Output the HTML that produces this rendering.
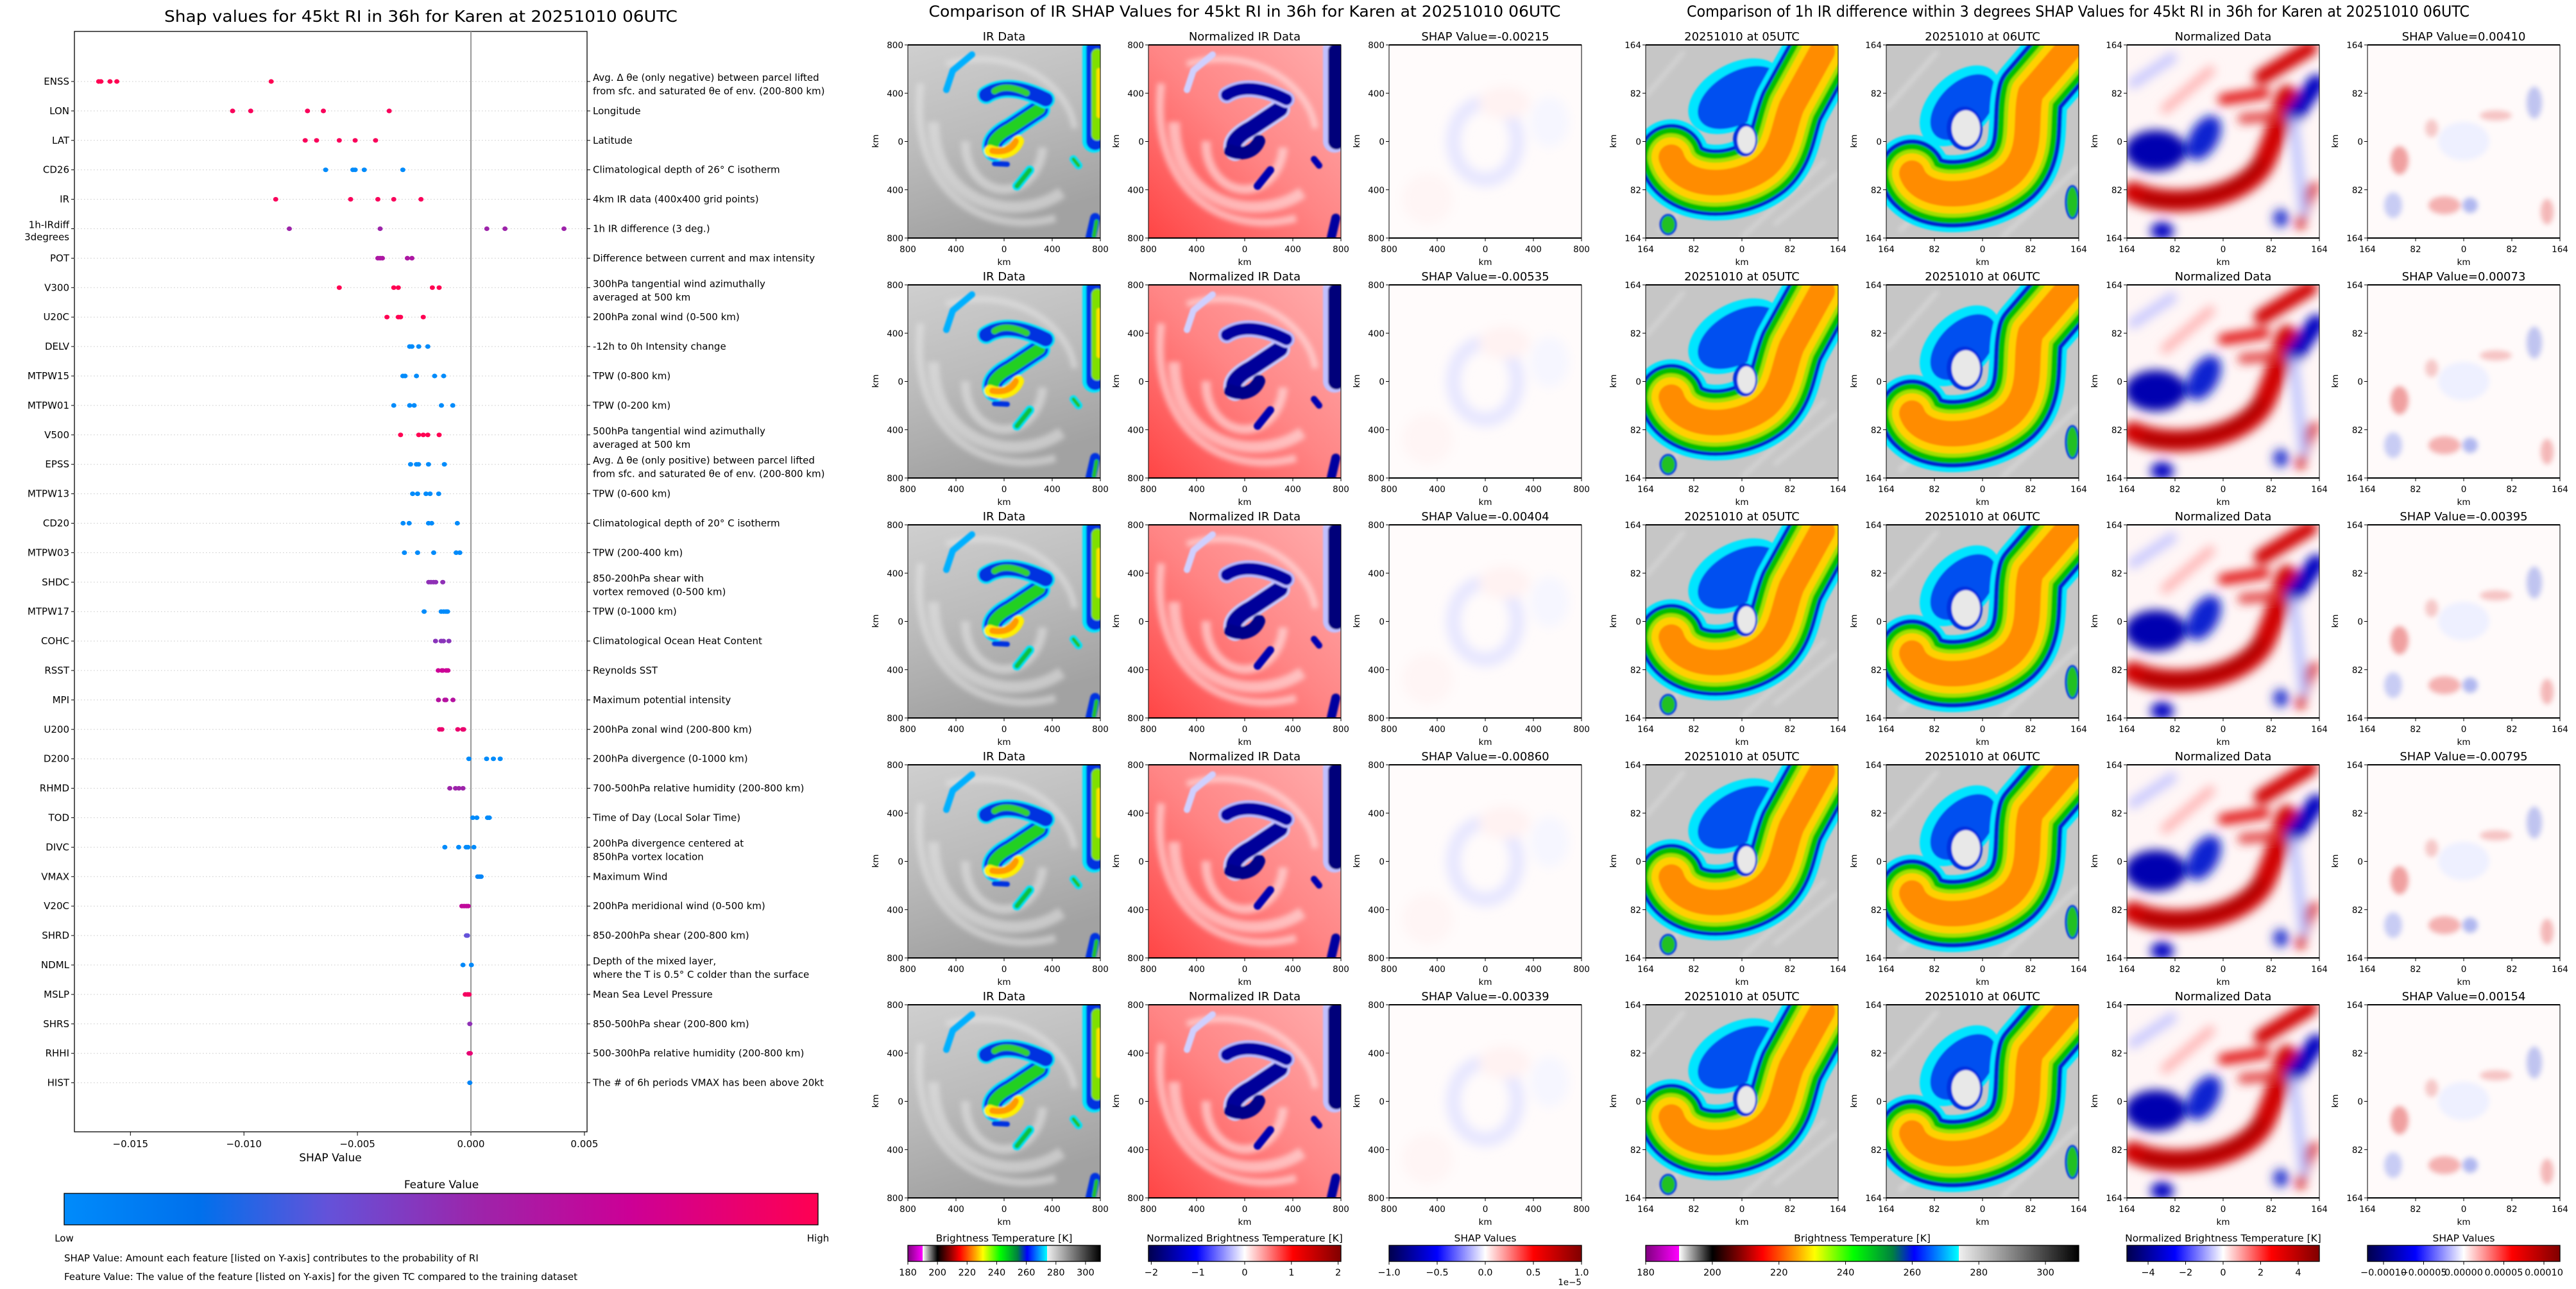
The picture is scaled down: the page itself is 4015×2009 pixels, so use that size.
<!DOCTYPE html>
<html><head><meta charset="utf-8"><title>SHAP Karen</title>
<style>
html,body{margin:0;padding:0;background:#fff;}
svg{display:block;font-family:"DejaVu Sans","Liberation Sans",sans-serif;}
</style></head>
<body>
<svg id="root" xmlns="http://www.w3.org/2000/svg" width="4015" height="2009" viewBox="0 0 4015 2009">
<defs>
  <linearGradient id="featGrad" x1="0" x2="1" y1="0" y2="0">
    <stop offset="0" stop-color="#008bfb"/><stop offset="0.18" stop-color="#0070ec"/>
    <stop offset="0.35" stop-color="#6452d9"/><stop offset="0.55" stop-color="#9d24aa"/>
    <stop offset="0.75" stop-color="#cc0096"/><stop offset="1" stop-color="#ff0052"/>
  </linearGradient>
  <linearGradient id="btGradMid" x1="0" x2="1">
    <stop offset="0" stop-color="#800080"/><stop offset="0.077" stop-color="#ff00ff"/>
    <stop offset="0.077" stop-color="#ffffff"/><stop offset="0.154" stop-color="#000000"/>
    <stop offset="0.22" stop-color="#8b0000"/><stop offset="0.27" stop-color="#ff0000"/>
    <stop offset="0.35" stop-color="#ffa500"/><stop offset="0.39" stop-color="#ffff00"/>
    <stop offset="0.48" stop-color="#00ff00"/><stop offset="0.57" stop-color="#008040"/>
    <stop offset="0.62" stop-color="#0000ff"/><stop offset="0.723" stop-color="#00ffff"/>
    <stop offset="0.723" stop-color="#f0f0f0"/><stop offset="1" stop-color="#000000"/>
  </linearGradient>
  <linearGradient id="seismic" x1="0" x2="1">
    <stop offset="0" stop-color="#00004d"/><stop offset="0.25" stop-color="#0000ff"/>
    <stop offset="0.5" stop-color="#ffffff"/><stop offset="0.75" stop-color="#ff0000"/>
    <stop offset="1" stop-color="#800000"/>
  </linearGradient>
  <linearGradient id="irBg" x1="0" y1="0" x2="0.3" y2="1">
    <stop offset="0" stop-color="#cfcfcf"/><stop offset="0.5" stop-color="#bcbcbc"/><stop offset="1" stop-color="#a2a2a2"/>
  </linearGradient>
  <linearGradient id="nrBg" x1="1" y1="0" x2="0" y2="1">
    <stop offset="0" stop-color="#ffadad"/><stop offset="0.5" stop-color="#ff8585"/><stop offset="1" stop-color="#ff4545"/>
  </linearGradient>
  <filter id="b1"><feGaussianBlur stdDeviation="1.2"/></filter>
  <filter id="b4"><feGaussianBlur stdDeviation="4"/></filter>
  <filter id="b8"><feGaussianBlur stdDeviation="8"/></filter>

  <symbol id="irSym" viewBox="0 0 300 301">
    <rect width="300" height="301" fill="url(#irBg)"/>
    <g fill="none" stroke="#e6e6e6" opacity="0.55" filter="url(#b4)">
      <path d="M150,150 m-60,0 a60,70 0 1,0 120,10" stroke-width="14"/>
      <path d="M40,120 C40,250 170,280 240,230" stroke-width="18"/>
      <path d="M20,60 C0,230 120,300 230,270" stroke-width="12"/>
      <path d="M60,30 C160,0 250,60 260,130" stroke-width="10"/>
    </g>
    <g filter="url(#b1)" fill="none" stroke-linecap="round" stroke-linejoin="round">
      <path d="M135,165 C125,150 150,135 160,130 C175,120 190,110 205,100" stroke="#00e5ff" stroke-width="34"/>
      <path d="M135,165 C125,150 150,135 160,130 C175,120 190,110 205,100" stroke="#0033ee" stroke-width="28"/>
      <path d="M135,165 C125,150 150,135 160,130 C175,120 190,110 205,100" stroke="#20d020" stroke-width="18"/>
      <path d="M128,165 C145,172 165,168 172,150" stroke="#ffee00" stroke-width="18"/>
      <path d="M132,165 C148,168 163,163 168,150" stroke="#ff9a00" stroke-width="10"/>
      <path d="M122,78 C150,60 185,70 215,85" stroke="#00e5ff" stroke-width="28"/>
      <path d="M122,78 C150,60 185,70 215,85" stroke="#0030e0" stroke-width="22"/>
      <path d="M135,72 C150,62 170,68 185,75" stroke="#30d030" stroke-width="10"/>
      <path d="M290,5 L290,150" stroke="#00e5ff" stroke-width="36"/>
      <path d="M292,5 L292,150" stroke="#0030e0" stroke-width="28"/>
      <path d="M295,15 L295,140" stroke="#80e000" stroke-width="18"/>
      <path d="M298,40 L298,110" stroke="#ffe000" stroke-width="8"/>
      <path d="M170,220 L190,195" stroke="#00e5ff" stroke-width="14"/>
      <path d="M170,220 L190,195" stroke="#10c040" stroke-width="8"/>
      <path d="M258,178 L266,188" stroke="#00e5ff" stroke-width="12"/>
      <path d="M258,178 L266,188" stroke="#20c020" stroke-width="6"/>
      <path d="M135,185 L155,186" stroke="#0030e0" stroke-width="8"/>
      <path d="M100,15 L70,40 L60,70" stroke="#00b0ff" stroke-width="10"/>
      <path d="M292,270 L285,300" stroke="#0030e0" stroke-width="16"/>
      <path d="M294,275 L290,298" stroke="#20c020" stroke-width="6"/>
    </g>
  </symbol>

  <symbol id="nrSym" viewBox="0 0 300 301">
    <rect width="300" height="301" fill="url(#nrBg)"/>
    <g fill="none" stroke="#ffe8e8" opacity="0.6" filter="url(#b4)">
      <path d="M150,150 m-60,0 a60,70 0 1,0 120,10" stroke-width="14"/>
      <path d="M40,120 C40,250 170,280 240,230" stroke-width="18"/>
      <path d="M20,60 C0,230 120,300 230,270" stroke-width="12"/>
      <path d="M60,30 C160,0 250,60 260,130" stroke-width="10"/>
    </g>
    <g filter="url(#b1)" fill="none" stroke-linecap="round" stroke-linejoin="round">
      <path d="M135,165 C125,150 150,135 160,130 C175,120 190,110 205,100" stroke="#c8c8ff" stroke-width="32"/>
      <path d="M135,165 C125,150 150,135 160,130 C175,120 190,110 205,100" stroke="#00009a" stroke-width="24"/>
      <path d="M128,165 C145,172 165,168 172,150" stroke="#00008a" stroke-width="20"/>
      <path d="M122,78 C150,60 185,70 215,85" stroke="#b8b8ff" stroke-width="26"/>
      <path d="M122,78 C150,60 185,70 215,85" stroke="#0000a0" stroke-width="18"/>
      <path d="M290,5 L290,150" stroke="#c0c0ff" stroke-width="36"/>
      <path d="M293,10 L293,150" stroke="#00007a" stroke-width="26"/>
      <path d="M170,220 L190,195" stroke="#0000b0" stroke-width="12"/>
      <path d="M258,178 L266,188" stroke="#0000b0" stroke-width="10"/>
      <path d="M100,15 L70,40 L60,70" stroke="#d0d0ff" stroke-width="10"/>
      <path d="M292,270 L285,300" stroke="#0000a0" stroke-width="14"/>
    </g>
  </symbol>

  <symbol id="shapMidSym" viewBox="0 0 300 301">
    <rect width="300" height="301" fill="#fffbfb"/>
    <g filter="url(#b8)">
      <ellipse cx="150" cy="150" rx="50" ry="60" fill="none" stroke="#e6e6ff" stroke-width="22"/>
      <ellipse cx="180" cy="90" rx="40" ry="25" fill="#fff2f2"/>
      <ellipse cx="250" cy="120" rx="30" ry="40" fill="#f6f6ff"/>
      <ellipse cx="60" cy="240" rx="40" ry="40" fill="#fff5f5"/>
    </g>
  </symbol>

  <symbol id="r05Sym" viewBox="0 0 300 301">
    <rect width="300" height="301" fill="#c6c6c6"/>
    <g stroke="#e0e0e0" stroke-width="6" opacity="0.6" filter="url(#b4)">
      <path d="M0,80 L60,10"/><path d="M20,290 L120,200"/><path d="M150,300 L280,180"/><path d="M200,280 L300,200"/><path d="M230,120 L300,60"/>
    </g>
    <g filter="url(#b1)" fill="none" stroke-linecap="round" stroke-linejoin="round">
      <ellipse cx="140" cy="80" rx="80" ry="50" fill="#00e5ff" stroke="none" transform="rotate(-30 140 80)"/>
      <ellipse cx="145" cy="82" rx="70" ry="40" fill="#0050f0" stroke="none" transform="rotate(-30 145 82)"/>
      <path id="c05" d="M40,175 C55,225 140,225 185,190 C215,165 215,125 228,95 L275,10"/>
      <use href="#c05" stroke="#00e5ff" stroke-width="118"/>
      <use href="#c05" stroke="#0020d0" stroke-width="104"/>
      <use href="#c05" stroke="#00c000" stroke-width="92"/>
      <use href="#c05" stroke="#a0e000" stroke-width="74"/>
      <use href="#c05" stroke="#ffd000" stroke-width="62"/>
      <use href="#c05" stroke="#ff8c00" stroke-width="40"/>
      <ellipse cx="155" cy="148" rx="19" ry="26" fill="#0030e0" stroke="none"/>
      <ellipse cx="157" cy="148" rx="14" ry="21" fill="#e8e8e8" stroke="none"/>
      <ellipse cx="35" cy="280" rx="12" ry="15" fill="#20c020" stroke="#0030e0" stroke-width="3"/>
    </g>
  </symbol>

  <symbol id="r06Sym" viewBox="0 0 300 301">
    <rect width="300" height="301" fill="#c6c6c6"/>
    <g stroke="#e4e4e4" stroke-width="6" opacity="0.6" filter="url(#b4)">
      <path d="M0,100 L80,10"/><path d="M20,290 L120,200"/><path d="M180,300 L300,190"/>
    </g>
    <g filter="url(#b1)" fill="none" stroke-linecap="round" stroke-linejoin="round">
      <ellipse cx="115" cy="95" rx="75" ry="48" fill="#00e5ff" stroke="none" transform="rotate(-45 115 95)"/>
      <ellipse cx="120" cy="97" rx="62" ry="38" fill="#0050f0" stroke="none" transform="rotate(-45 120 97)"/>
      <path id="c06" d="M40,200 C55,245 150,240 195,200 C230,165 215,115 225,75 L285,5"/>
      <use href="#c06" stroke="#00e5ff" stroke-width="120"/>
      <use href="#c06" stroke="#0020d0" stroke-width="106"/>
      <use href="#c06" stroke="#00c000" stroke-width="92"/>
      <use href="#c06" stroke="#a0e000" stroke-width="74"/>
      <use href="#c06" stroke="#ffd000" stroke-width="62"/>
      <use href="#c06" stroke="#ff8c00" stroke-width="40"/>
      <ellipse cx="122" cy="130" rx="28" ry="34" fill="#0030e0" stroke="none"/>
      <ellipse cx="124" cy="130" rx="22" ry="28" fill="#e8e8e8" stroke="none"/>
      <ellipse cx="290" cy="245" rx="10" ry="25" fill="#20c020" stroke="#0030e0" stroke-width="3"/>
    </g>
  </symbol>

  <symbol id="rNormSym" viewBox="0 0 300 301">
    <rect width="300" height="301" fill="#fff6f6"/>
    <g filter="url(#b8)" fill="none" stroke-linecap="round">
      <path d="M10,230 C80,260 190,235 215,180 C235,135 240,110 250,80" stroke="#d00000" stroke-width="34"/>
      <path d="M30,240 C100,250 180,230 205,185" stroke="#b00000" stroke-width="18"/>
      <ellipse cx="45" cy="165" rx="48" ry="32" fill="#0000b0" stroke="none"/>
      <ellipse cx="120" cy="145" rx="22" ry="38" fill="#1020d0" stroke="none" transform="rotate(30 120 145)"/>
      <path d="M260,110 L295,60" stroke="#0000c0" stroke-width="28"/>
      <path d="M210,50 L285,5" stroke="#d00000" stroke-width="24"/>
      <path d="M150,85 L215,75" stroke="#e00000" stroke-width="16"/>
      <path d="M180,115 L240,110" stroke="#e03030" stroke-width="14"/>
      <path d="M10,60 L70,20" stroke="#c8c8ff" stroke-width="16"/>
      <path d="M60,100 L130,40" stroke="#ffb0b0" stroke-width="14"/>
      <path d="M290,220 L270,280" stroke="#d00000" stroke-width="14"/>
      <ellipse cx="55" cy="290" rx="18" ry="14" fill="#0000c0" stroke="none"/>
      <ellipse cx="240" cy="270" rx="12" ry="14" fill="#2030d0" stroke="none"/>
      <path d="M260,120 L275,260" stroke="#b8c0ff" stroke-width="14"/>
    </g>
  </symbol>

  <symbol id="rShapSym" viewBox="0 0 300 301">
    <rect width="300" height="301" fill="#fffafa"/>
    <g filter="url(#b4)">
      <ellipse cx="50" cy="180" rx="14" ry="22" fill="#f0a0a0"/>
      <ellipse cx="120" cy="250" rx="25" ry="14" fill="#f4b0b0"/>
      <ellipse cx="160" cy="250" rx="12" ry="12" fill="#b0b8f0"/>
      <ellipse cx="260" cy="90" rx="12" ry="25" fill="#c0c4f0"/>
      <ellipse cx="200" cy="110" rx="25" ry="8" fill="#f6c4c4"/>
      <ellipse cx="40" cy="250" rx="14" ry="20" fill="#c8ccf4"/>
      <ellipse cx="150" cy="150" rx="40" ry="30" fill="#eef0ff"/>
      <ellipse cx="280" cy="260" rx="10" ry="20" fill="#f4b8b8"/>
      <ellipse cx="100" cy="130" rx="10" ry="14" fill="#f6c8c8"/>
    </g>
  </symbol>
</defs>
<g id="main"></g>
<g id="panels"></g>
</svg>
<script>
// ---------- summary plot data ----------
const features = ["ENSS","LON","LAT","CD26","IR","1h-IRdiff\n3degrees","POT","V300","U20C","DELV","MTPW15","MTPW01","V500","EPSS","MTPW13","CD20","MTPW03","SHDC","MTPW17","COHC","RSST","MPI","U200","D200","RHMD","TOD","DIVC","VMAX","V20C","SHRD","NDML","MSLP","SHRS","RHHI","HIST"];
const descriptions = [
 "Avg. Δ θe (only negative) between parcel lifted\nfrom sfc. and saturated θe of env. (200-800 km)",
 "Longitude","Latitude","Climatological depth of 26° C isotherm","4km IR data (400x400 grid points)",
 "1h IR difference (3 deg.)","Difference between current and max intensity",
 "300hPa tangential wind azimuthally\naveraged at 500 km","200hPa zonal wind (0-500 km)","-12h to 0h Intensity change",
 "TPW (0-800 km)","TPW (0-200 km)","500hPa tangential wind azimuthally\naveraged at 500 km",
 "Avg. Δ θe (only positive) between parcel lifted\nfrom sfc. and saturated θe of env. (200-800 km)",
 "TPW (0-600 km)","Climatological depth of 20° C isotherm","TPW (200-400 km)",
 "850-200hPa shear with\nvortex removed (0-500 km)","TPW (0-1000 km)","Climatological Ocean Heat Content",
 "Reynolds SST","Maximum potential intensity","200hPa zonal wind (200-800 km)","200hPa divergence (0-1000 km)",
 "700-500hPa relative humidity (200-800 km)","Time of Day (Local Solar Time)",
 "200hPa divergence centered at\n850hPa vortex location","Maximum Wind","200hPa meridional wind (0-500 km)",
 "850-200hPa shear (200-800 km)","Depth of the mixed layer,\nwhere the T is 0.5° C colder than the surface",
 "Mean Sea Level Pressure","850-500hPa shear (200-800 km)","500-300hPa relative humidity (200-800 km)",
 "The # of 6h periods VMAX has been above 20kt"];
const shapValues = [
 [-0.0164,-0.0163,-0.0159,-0.0156,-0.0088],
 [-0.0105,-0.0097,-0.0072,-0.0065,-0.0036],
 [-0.0073,-0.0068,-0.0058,-0.0051,-0.0042],
 [-0.0064,-0.0052,-0.0051,-0.0047,-0.0030],
 [-0.0086,-0.0053,-0.0041,-0.0034,-0.0022],
 [-0.0080,-0.0040,0.0007,0.0015,0.0041],
 [-0.0041,-0.0040,-0.0039,-0.0028,-0.0026],
 [-0.0058,-0.0034,-0.0032,-0.0017,-0.0014],
 [-0.0037,-0.0032,-0.0031,-0.0021],
 [-0.0027,-0.0026,-0.0023,-0.0019],
 [-0.0030,-0.0029,-0.0024,-0.0016,-0.0012],
 [-0.0034,-0.0027,-0.0025,-0.0013,-0.0008],
 [-0.0031,-0.0023,-0.0021,-0.0019,-0.0014],
 [-0.00266,-0.00240,-0.00231,-0.00187,-0.00117],
 [-0.00257,-0.00235,-0.00198,-0.00180,-0.00142],
 [-0.00299,-0.00272,-0.00187,-0.00173,-0.00060],
 [-0.00293,-0.00235,-0.00164,-0.00065,-0.00049],
 [-0.00186,-0.00176,-0.00165,-0.00155,-0.00124],
 [-0.00206,-0.00131,-0.00120,-0.00110,-0.00103],
 [-0.00156,-0.00131,-0.00121,-0.00097],
 [-0.00144,-0.00128,-0.00124,-0.00109,-0.00101],
 [-0.00143,-0.00115,-0.00110,-0.00079],
 [-0.00138,-0.00128,-0.00058,-0.00036,-0.00032],
 [-0.00009,0.00069,0.00099,0.00129],
 [-0.00093,-0.00068,-0.00053,-0.00035],
 [0.00008,0.00026,0.00073,0.00081],
 [-0.00115,-0.00054,-0.00021,-0.00013,0.00013],
 [0.00030,0.00038,0.00045],
 [-0.00040,-0.00030,-0.00020,-0.00012],
 [-0.00020,-0.00015],
 [-0.00035,0.00002],
 [-0.00025,-0.00015,-0.00008],
 [-0.00005],
 [-0.00008,-0.00003],
 [-0.00005]];
const featureLevels = [1,0.97,0.97,0,0.97,0.55,0.62,1,1,0,0,0,1,0,0,0,0,0.5,0,0.48,0.75,0.65,0.9,0,0.55,0,0,0.05,0.7,0.35,0.02,0.95,0.5,0.88,0.05];
const xTicks = [-0.015,-0.010,-0.005,0.000,0.005];
const xTickLabels = ["\u22120.015","\u22120.010","\u22120.005","0.000","0.005"];

// ---------- image panel data ----------
const midTitles = ["IR Data","Normalized IR Data","SHAP Value"];
const midShap = ["-0.00215","-0.00535","-0.00404","-0.00860","-0.00339"];
const rightTitles = ["20251010 at 05UTC","20251010 at 06UTC","Normalized Data","SHAP Value"];
const rightShap = ["0.00410","0.00073","-0.00395","-0.00795","0.00154"];
const midTickLabels = ["800","400","0","400","800"];
const rightTickLabels = ["164","82","0","82","164"];
const btTicks = [180,200,220,240,260,280,300];
const normMidTicks = [-2,-1,0,1,2];
const shapMidTicks = [-1.0,-0.5,0.0,0.5,1.0];
const normRightTicks = [-4,-2,0,2,4];
const shapRightTicks = [-0.00010,-0.00005,0.00000,0.00005,0.00010];

const NS = "http://www.w3.org/2000/svg";
function mk(parent, tag, attrs, txt){
  const e = document.createElementNS(NS, tag);
  for (const k in attrs) e.setAttribute(k, attrs[k]);
  if (txt !== undefined) e.textContent = txt;
  parent.appendChild(e);
  return e;
}
function lerp(a,b,t){return a+(b-a)*t;}
const cStops=[[0,[0,139,251]],[0.18,[0,112,236]],[0.35,[100,82,217]],[0.55,[157,36,170]],[0.75,[204,0,150]],[1,[255,0,82]]];
function featColor(f){
  for(let i=1;i<cStops.length;i++){ if(f<=cStops[i][0]){const a=cStops[i-1],b=cStops[i];const t=(f-a[0])/(b[0]-a[0]);
    return "rgb("+a[1].map((v,j)=>Math.round(lerp(v,b[1][j],t))).join(",")+")";}}
  return "rgb(255,0,82)";
}

// ---------- summary chart ----------
const main = document.getElementById("main");
const AX_L=116, AX_R=915, AX_T=49, AX_B=1764;
const xScale = v => 734 + v*35380;
const rowY = i => 127 + i*45.9;

const frame = mk(main,"rect",{x:AX_L,y:AX_T,width:AX_R-AX_L,height:AX_B-AX_T,fill:"none",stroke:"#000","stroke-width":1.3});


const title = mk(main,"text",{x:656,y:34,"text-anchor":"middle","font-size":25,textLength:800,lengthAdjust:"spacingAndGlyphs"},"Shap values for 45kt RI in 36h for Karen at 20251010 06UTC");



features.forEach((f,i)=>{
  const y=rowY(i);
  const grid = mk(main,"line",{x1:AX_L,x2:AX_R,y1:y,y2:y,stroke:"#c8c8c8","stroke-width":1,"stroke-dasharray":"1.5,3.5"});
  
  
  const tl = mk(main,"line",{x1:AX_L-5,x2:AX_L,y1:y,y2:y,stroke:"#000","stroke-width":1});
  
  
  const tr = mk(main,"line",{x1:AX_R,x2:AX_R+5,y1:y,y2:y,stroke:"#000","stroke-width":1});
  
  
  const fl = f.split("\n");
  fl.forEach((ln,k)=>{
    const yy = fl.length===1 ? y+5 : y-1+k*19;
    const t = mk(main,"text",{x:AX_L-8,y:yy,"text-anchor":"end","font-size":15},ln);
    
    
  });
  const dl = descriptions[i].split("\n");
  dl.forEach((ln,k)=>{
    const yy = dl.length===1 ? y+5 : y-1+k*21;
    const t = mk(main,"text",{x:AX_R+9,y:yy,"font-size":15},ln);
    
    
  });
});
const zl = mk(main,"line",{x1:xScale(0),x2:xScale(0),y1:AX_T,y2:AX_B,stroke:"#999","stroke-width":2});


shapValues.forEach((vals,i)=>{
  vals.forEach(v=>{
    const c = mk(main,"ellipse",{cx:xScale(v),cy:rowY(i),rx:4,ry:3.6,fill:featColor(featureLevels[i])});
    
    
  });
});
xTicks.forEach((t,k)=>{
  const x=xScale(t);
  const tk = mk(main,"line",{x1:x,x2:x,y1:AX_B,y2:AX_B+6,stroke:"#000","stroke-width":1});
  
  
  const tx = mk(main,"text",{x:x,y:AX_B+24,"text-anchor":"middle","font-size":15},xTickLabels[k]);
  
  
});
const xt = mk(main,"text",{x:515,y:1810,"text-anchor":"middle","font-size":17},"SHAP Value");


const cbT = mk(main,"text",{x:688,y:1852,"text-anchor":"middle","font-size":17},"Feature Value");


const cb = mk(main,"rect",{x:100,y:1860,width:1175,height:49,fill:"url(#featGrad)",stroke:"#000","stroke-width":1.3});


const lo = mk(main,"text",{x:100,y:1935,"text-anchor":"middle","font-size":15},"Low");


const hi = mk(main,"text",{x:1275,y:1935,"text-anchor":"middle","font-size":15},"High");


const n1 = mk(main,"text",{x:100,y:1966,"font-size":15},"SHAP Value: Amount each feature [listed on Y-axis] contributes to the probability of RI");


const n2 = mk(main,"text",{x:100,y:1995,"font-size":15},"Feature Value: The value of the feature [listed on Y-axis] for the given TC compared to the training dataset");



// ---------- image panels ----------
const P = document.getElementById("panels");
const rowTops = [70,444,818,1192,1566];
const midX = [1415,1790,2165];
const rightX = [2565,2940,3315,3690];
const midSyms = ["#irSym","#nrSym","#shapMidSym"];
const rightSyms = ["#r05Sym","#r06Sym","#rNormSym","#rShapSym"];

const st1 = mk(P,"text",{x:1940,y:26,"text-anchor":"middle","font-size":24,textLength:985,lengthAdjust:"spacingAndGlyphs"},"Comparison of IR SHAP Values for 45kt RI in 36h for Karen at 20251010 06UTC");


const st2 = mk(P,"text",{x:3239,y:26,"text-anchor":"middle","font-size":24,textLength:1220,lengthAdjust:"spacingAndGlyphs"},"Comparison of 1h IR difference within 3 degrees SHAP Values for 45kt RI in 36h for Karen at 20251010 06UTC");



function panel(x0,y0,sym,titleTxt,ticks,name){
  const g = mk(P,"g",{});
  
  
  const u = mk(g,"use",{href:sym,x:x0,y:y0,width:300,height:301});
  
  
  const fr = mk(g,"rect",{x:x0,y:y0,width:300,height:301,fill:"none",stroke:"#000","stroke-width":1});
  
  
  const tl = mk(g,"line",{x1:x0,x2:x0+300,y1:y0,y2:y0,stroke:"#000","stroke-width":2});
  
  
  const bl = mk(g,"line",{x1:x0,x2:x0+300,y1:y0+301,y2:y0+301,stroke:"#000","stroke-width":2});
  
  
  const t = mk(g,"text",{x:x0+150,y:y0-7,"text-anchor":"middle","font-size":18},titleTxt);
  
  
  ticks.forEach((lab,k)=>{
    const yy=y0+k*75.25, xx=x0+k*75;
    const ty = mk(g,"line",{x1:x0-5,x2:x0,y1:yy,y2:yy,stroke:"#000"});
    
    
    const ly = mk(g,"text",{x:x0-7,y:yy+5,"text-anchor":"end","font-size":13.5},lab);
    
    
    const tx = mk(g,"line",{x1:xx,x2:xx,y1:y0+301,y2:y0+306,stroke:"#000"});
    
    
    const lx = mk(g,"text",{x:xx,y:y0+323,"text-anchor":"middle","font-size":13.5},lab);
    
    
  });
  const xl = mk(g,"text",{x:x0+150,y:y0+343,"text-anchor":"middle","font-size":13.5},"km");
  
  
  const yl = mk(g,"text",{x:x0-46,y:y0+150,"text-anchor":"middle","font-size":13.5,transform:"rotate(-90 "+(x0-46)+" "+(y0+150)+")"},"km");
  
  
}
rowTops.forEach((y0,r)=>{
  midX.forEach((x0,c)=>{
    const ttl = c===2 ? "SHAP Value="+midShap[r] : midTitles[c];
    panel(x0,y0,midSyms[c],ttl,midTickLabels,"ir-panel-r"+(r+1)+"-c"+(c+1));
  });
  rightX.forEach((x0,c)=>{
    const ttl = c===3 ? "SHAP Value="+rightShap[r] : rightTitles[c];
    panel(x0,y0,rightSyms[c],ttl,rightTickLabels,"irdiff-panel-r"+(r+1)+"-c"+(c+1));
  });
});

function colorbar(x0,w,fill,titleTxt,ticks,vmin,vmax,fmt,name){
  const g = mk(P,"g",{});
  
  
  const t = mk(g,"text",{x:x0+w/2,y:1935,"text-anchor":"middle","font-size":15.5},titleTxt);
  
  
  const r = mk(g,"rect",{x:x0,y:1941,width:w,height:25,fill:fill,stroke:"#000","stroke-width":1.3});
  
  
  ticks.forEach(v=>{
    const x = x0 + (v-vmin)/(vmax-vmin)*w;
    const tk = mk(g,"line",{x1:x,x2:x,y1:1966,y2:1971,stroke:"#000"});
    
    
    const lb = mk(g,"text",{x:x,y:1988,"text-anchor":"middle","font-size":14.5},fmt(v));
    
    
  });
}
const minus = s => s.replace("-","\u2212");
colorbar(1415,300,"url(#btGradMid)","Brightness Temperature [K]",btTicks,180,310,v=>String(v),"bt-colorbar-ir");
colorbar(1790,300,"url(#seismic)","Normalized Brightness Temperature [K]",normMidTicks,-2.06,2.06,v=>minus(String(v)),"norm-colorbar-ir");
colorbar(2165,300,"url(#seismic)","SHAP Values",shapMidTicks,-1,1,v=>minus(v.toFixed(1)),"shap-colorbar-ir");
const ex = mk(P,"text",{x:2465,y:2003,"text-anchor":"end","font-size":13.5},"1e\u22125");


colorbar(2565,675,"url(#btGradMid)","Brightness Temperature [K]",btTicks,180,310,v=>String(v),"bt-colorbar-irdiff");
colorbar(3315,300,"url(#seismic)","Normalized Brightness Temperature [K]",normRightTicks,-5.13,5.13,v=>minus(String(v)),"norm-colorbar-irdiff");
colorbar(3690,300,"url(#seismic)","SHAP Values",shapRightTicks,-0.00012,0.00012,v=>minus(v.toFixed(5)),"shap-colorbar-irdiff");
</script>
</body></html>
